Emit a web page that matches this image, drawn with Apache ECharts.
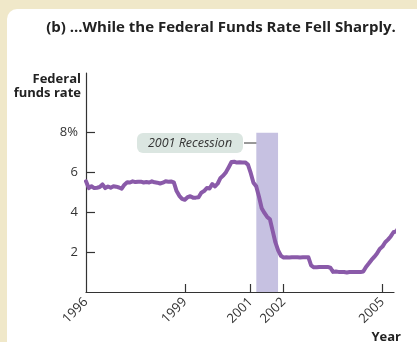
<!DOCTYPE html>
<html>
<head>
<meta charset="utf-8">
<script src="https://cdn.jsdelivr.net/npm/echarts@6/dist/echarts.min.js"></script>
<style>
html,body{margin:0;padding:0;width:417px;height:342px;overflow:hidden;background:#f0e8c9;}
#panel{position:absolute;left:7px;top:9px;right:0;bottom:0;background:#fff;border-top-left-radius:10px;}
#chart{position:absolute;left:0;top:0;width:417px;height:342px;}
</style>
</head>
<body>
<div id="panel"></div>
<div id="chart"></div>
<script>
// Monthly federal funds rate (%), starting January 1996
const firstYear = 1996;
const rates = [
  5.56,5.22,5.31,5.22,5.24,5.27,5.40,5.22,5.30,5.24,5.31,5.29,
  5.25,5.19,5.39,5.51,5.50,5.56,5.52,5.54,5.54,5.50,5.52,5.50,
  5.56,5.51,5.49,5.45,5.49,5.56,5.54,5.55,5.51,5.07,4.83,4.68,
  4.63,4.76,4.81,4.74,4.74,4.76,4.99,5.07,5.22,5.20,5.42,5.30,
  5.45,5.73,5.85,6.02,6.27,6.53,6.54,6.50,6.52,6.51,6.51,6.40,
  5.98,5.49,5.31,4.80,4.21,3.97,3.77,3.65,3.07,2.49,2.09,1.82,
  1.73,1.74,1.73,1.75,1.75,1.75,1.73,1.74,1.75,1.75,1.34,1.24,
  1.24,1.26,1.25,1.26,1.26,1.22,1.01,1.03,1.01,1.01,1.00,0.98,
  1.00,1.01,1.00,1.00,1.00,1.03,1.26,1.43,1.61,1.76,1.93,2.16,
  2.28,2.50,2.63,2.79,3.00,3.04,3.26
];
const xLabelYears = [1996, 1999, 2001, 2002, 2005];
const xTickYears = [1999, 2001, 2002, 2005];
const yTickValues = [2, 4, 6, 8];
const recession = [2001.17, 2001.83];
const recessionLabel = '2001 Recession';
const titleText = '(b) ...While the Federal Funds Rate Fell Sharply.';
const yName = 'Federal\nfunds rate';
const xName = 'Year';

const lineData = rates.map((v, i) => [firstYear + i / 12, v]);

const chart = echarts.init(document.getElementById('chart'), null, {renderer: 'canvas'});
const font = '"Open Sans", "Noto Sans", sans-serif';
const axisColor = '#333';
chart.setOption({
  backgroundColor: 'transparent',
  animation: false,
  grid: {left: 86, right: 23, top: 73, bottom: 50, containLabel: false},
  xAxis: {
    type: 'value', min: 1996, max: 2005.35,
    splitLine: {show: false},
    axisLine: {show: true, lineStyle: {color: axisColor, width: 1.2}},
    axisTick: {show: true, inside: true, length: 8, customValues: xTickYears, lineStyle: {color: axisColor, width: 1.2}},
    axisLabel: {customValues: xLabelYears, rotate: 45, margin: 8, color: '#333', fontSize: 13, fontFamily: font,
      formatter: v => String(Math.round(v))}
  },
  yAxis: {
    type: 'value', min: 0, max: 11,
    splitLine: {show: false},
    axisLine: {show: true, lineStyle: {color: axisColor, width: 1.2}},
    axisTick: {show: true, inside: true, length: 9, customValues: yTickValues, lineStyle: {color: axisColor, width: 1.2}},
    axisLabel: {customValues: yTickValues, margin: 8, color: '#333', fontSize: 13, fontFamily: font,
      formatter: v => v === 8 ? '8%' : String(v)}
  },
  series: [{
    type: 'line',
    data: lineData,
    showSymbol: false,
    clip: false,
    lineStyle: {color: '#8a5aa9', width: 4, join: 'round', cap: 'round'},
    z: 3,
    markArea: {
      silent: true,
      itemStyle: {color: '#c6c1e1', opacity: 1},
      data: [[{xAxis: recession[0], yAxis: 0}, {xAxis: recession[1], yAxis: 8}]],
      z: 1
    }
  }],
  graphic: [
    {type: 'text', x: 221, y: 28, style: {text: titleText, font: 'bold 15px ' + font, fill: '#222', align: 'center', verticalAlign: 'middle'}},
    {type: 'text', x: 81, y: 72, style: {text: yName, font: 'bold 13px ' + font, fill: '#222', align: 'right', verticalAlign: 'top', lineHeight: 14}},
    {type: 'text', x: 401, y: 331, style: {text: xName, font: 'bold 13px ' + font, fill: '#222', align: 'right', verticalAlign: 'top'}},
    {type: 'rect', shape: {x: 137, y: 133, width: 106, height: 20, r: 6}, style: {fill: '#dbe6e1'}},
    {type: 'text', x: 190, y: 143.5, style: {text: recessionLabel, font: 'italic 12.5px ' + font, fill: '#333', align: 'center', verticalAlign: 'middle'}},
    {type: 'line', shape: {x1: 244, y1: 143, x2: 257, y2: 143}, style: {stroke: '#333', lineWidth: 1}}
  ]
});
</script>
</body>
</html>
